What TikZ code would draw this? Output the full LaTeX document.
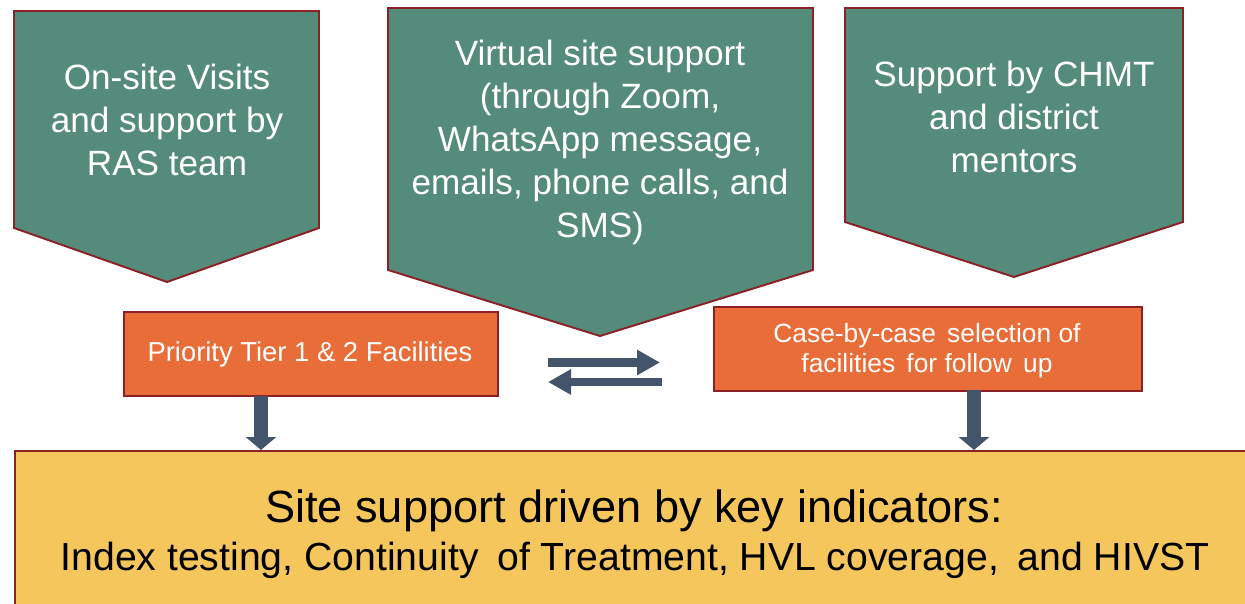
\documentclass[tikz,border=0pt]{standalone}
\usepackage{fontspec}
\setmainfont{Liberation Sans}
\usetikzlibrary{arrows.meta,calc}
\definecolor{tealbox}{HTML}{548B7B}
\definecolor{edgered}{HTML}{8B2026}
\definecolor{orangebox}{HTML}{E96D38}
\definecolor{yellowbox}{HTML}{F5C65C}
\definecolor{arrowblue}{HTML}{44546A}
\tikzset{
  pent/.style={fill=tealbox, draw=edgered, line width=1.1pt, line join=miter},
  toptext/.style={text=white, align=center, inner sep=0pt, font=\fontsize{20}{24.6}\selectfont, anchor=base},
  orangebx/.style={fill=orangebox, draw=edgered, line width=1.1pt},
  orangetext/.style={text=white, align=center, inner sep=0pt, font=\fontsize{15.6}{17.8}\selectfont, anchor=base},
  downarrow/.style={draw=arrowblue, line width=0.28cm, -{Triangle[width=0.6cm,length=0.26cm]}},
  sidearrow/.style={draw=arrowblue, line width=0.17cm, -{Triangle[width=0.48cm,length=0.46cm]}},
}
\begin{document}
\begin{tikzpicture}[x=0.02cm, y=-0.02cm]
\useasboundingbox (0,0) rectangle (1245,604);
\clip (0,0) rectangle (1245,604);
% pentagon shapes
\draw[pent] (14,11) -- (319,11) -- (319,228) -- (167,282) -- (14,228) -- cycle;
\draw[pent] (388,8) -- (813,8) -- (813,270) -- (600,336) -- (388,270) -- cycle;
\draw[pent] (845,8) -- (1183,8) -- (1183,222) -- (1014,277) -- (845,222) -- cycle;
\node[toptext] (onsite) at (167,176) {On-site Visits\\and support by\\RAS team};
\node[toptext] (virtual) at (600,238) {Virtual site support\\(through Zoom,\\WhatsApp message,\\emails, phone calls, and\\SMS)};
\node[toptext] (chmt) at (1014,173) {Support by CHMT\\and district\\mentors};
% orange boxes
\node[orangebx, minimum width=374*0.02cm, minimum height=84*0.02cm, anchor=north west, inner sep=0pt] (prio) at (123,311) {};
\node[orangetext] (priotext) at (310,362) {Priority Tier 1 \& 2 Facilities};
\node[orangebx, minimum width=428*0.02cm, minimum height=84*0.02cm, anchor=north west, inner sep=0pt] (case) at (713,306) {};
\node[orangetext, font=\fontsize{15}{17.6}\selectfont] (casetext) at (927,373) {Case-by-case\hspace{0.15em} selection of\\facilities\hspace{0.15em} for follow\hspace{0.15em} up};
% yellow box
\node[fill=yellowbox, draw=edgered, line width=1.1pt, minimum width=1242*0.02cm, minimum height=170*0.02cm, anchor=north west, inner sep=0pt] (site) at (14,450) {};
\node[anchor=base, inner sep=0pt, font=\fontsize{25.7}{30}\selectfont] (sitetitle) at (634,523) {Site support driven by key indicators:};
\node[anchor=base, inner sep=0pt, font=\fontsize{22.3}{26}\selectfont] (siteind) at (635,571) {Index testing, Continuity\hspace{0.2em} of Treatment, HVL coverage,\hspace{0.2em} and HIVST};
% down arrows
\coordinate (d1) at (261,396);
\coordinate (d2) at (974,390);
\draw[downarrow] (d1) -- (d1 |- site.north);
\draw[downarrow] (d2) -- (d2 |- site.north);
% side arrows
\coordinate (r1) at (548,362.5);
\coordinate (r2) at (660,362.5);
\coordinate (l1) at (662,382);
\coordinate (l2) at (548,382);
\draw[sidearrow] (r1) -- (r2);
\draw[sidearrow] (l1) -- (l2);
\end{tikzpicture}
\end{document}
